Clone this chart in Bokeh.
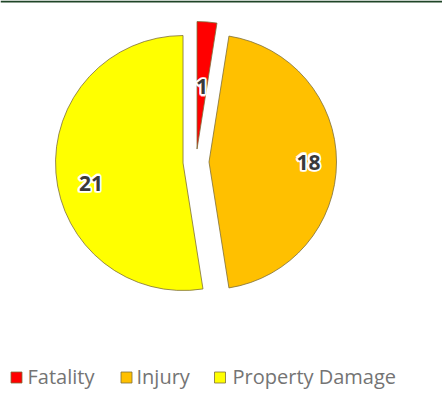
import math
from bokeh.plotting import figure
from bokeh.models import Range1d, ColumnDataSource
from bokeh.core.properties import value
from bokeh.embed import file_html
from bokeh.resources import INLINE

# ---- data ----
categories = ["Fatality", "Injury", "Property Damage"]
counts = [1, 18, 21]
colors = ["#FF0000", "#FFC000", "#FFFF00"]
label_frac = [0.49, 0.78, 0.74]
label_turn_deg = [0, 0, 8]

# ---- layout constants (reference pixel space) ----
W, H = 442, 407
cx, cy_ref, R, explode = 195.5, 161.5, 127.5, 13.0
cy = 407 - cy_ref

p = figure(width=W, height=H, output_backend="svg", toolbar_location=None,
           x_range=Range1d(0, W), y_range=Range1d(407 - H, 407),
           min_border=0, outline_line_color=None)
p.axis.visible = False
p.grid.visible = False
p.background_fill_color = "white"

# thin dark green bar at the very top
p.quad(left=0, right=W, top=407, bottom=405, fill_color="#1f4527", line_color=None)

total = float(sum(counts))
xs, ys, starts, ends, lx, ly = [], [], [], [], [], []
cum = 0.0
for v, f, t in zip(counts, label_frac, label_turn_deg):
    a0 = math.pi / 2 - cum / total * 2 * math.pi
    cum += v
    a1 = math.pi / 2 - cum / total * 2 * math.pi
    mid = (a0 + a1) / 2
    ox = cx + explode * math.cos(mid)
    oy = cy + explode * math.sin(mid)
    xs.append(ox); ys.append(oy); starts.append(a0); ends.append(a1)
    la = mid + math.radians(t)
    lx.append(ox + f * R * math.cos(la)); ly.append(oy + f * R * math.sin(la))

src = ColumnDataSource(dict(x=xs, y=ys, start=starts, end=ends, color=colors,
                            lx=lx, ly=ly, txt=[str(c) for c in counts]))
p.wedge(x="x", y="y", radius=R, start_angle="start", end_angle="end",
        direction="clock", fill_color="color", line_color="#7d6f3a",
        line_width=0.8, source=src)

# white glow behind the data labels
for dx, dy in [(-1.5, 0), (1.5, 0), (0, -1.5), (0, 1.5),
               (-1.1, -1.1), (1.1, 1.1), (-1.1, 1.1), (1.1, -1.1)]:
    p.text(x="lx", y="ly", text="txt", source=src, text_align="center",
           text_baseline="middle", text_font=value("Noto Sans"),
           text_font_style="bold", text_font_size="21px", text_color="white",
           text_outline_color="white", x_offset=dx, y_offset=dy, text_alpha=0.8)
p.text(x="lx", y="ly", text="txt", source=src, text_align="center",
       text_baseline="middle", text_font=value("Noto Sans"),
       text_font_style="bold", text_font_size="21px", text_color="#3a3a3a")

# ---- legend ----
sq_x = [16, 126, 219.5]
tx_x = [27, 136, 232]
leg_y = 407 - 376
p.scatter(x=sq_x, y=[leg_y - 1] * 3, marker="square", size=11,
          fill_color=colors, line_color="#7d6f3a", line_width=0.8)
p.text(x=tx_x, y=[leg_y] * 3, text=categories, text_align="left",
       text_baseline="middle", text_font=value("Open Sans"),
       text_font_size="20px", text_color="#747474")

open("out.html", "w").write(file_html(p, INLINE))
